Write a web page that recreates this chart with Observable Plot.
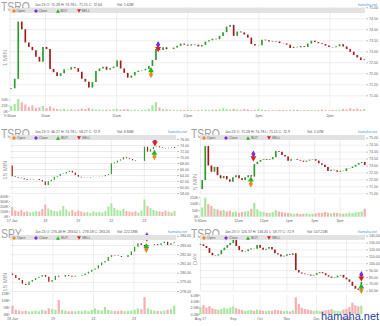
<!DOCTYPE html>
<html><head><meta charset="utf-8">
<script src="https://cdn.jsdelivr.net/npm/d3@7"></script>
<script src="https://cdn.jsdelivr.net/npm/@observablehq/plot@0.6"></script>
<style>
body{margin:0;background:#fff;font-family:"Liberation Sans",Arial,sans-serif}
#root{position:relative;width:380px;height:326px;overflow:hidden;background:#fff}
.a{position:absolute;white-space:nowrap}
</style></head><body><div id="root"></div><script>
// ---------- DATA ----------
// Panel A: TSRO 1 MIN (Jan 23)
const aCloses = [71.32,71.75,74.35,74.0,73.4,73.2,73.05,72.75,72.53,73.2,73.1,72.2,72.05,71.88,72.0,72.18,72.17,72.28,72.23,72.07,71.75,71.62,71.35,71.6,72.1,72.22,72.3,72.16,72.23,72.3,72.58,72.22,72.02,71.8,71.9,72.06,72.12,72.14,72.2,72.33,72.6,73.1,73.06,73.18,73.1,73.1,73.17,73.25,73.35,73.3,73.26,73.32,73.3,73.22,73.29,73.44,73.5,73.57,73.55,73.7,73.87,74.12,74.2,73.7,73.9,73.86,73.76,73.62,73.33,73.26,73.27,73.53,73.5,73.44,73.47,73.45,73.37,73.36,73.3,73.15,73.2,73.18,73.24,73.2,73.35,73.48,73.42,73.37,73.33,73.26,73.2,73.18,73.23,73.32,73.22,73.1,72.98,72.83,72.72,72.6,72.64];
const aVolK = [22,30,52,38,28,18,25,14,16,22,13,20,12,9,7,10,6,8,5,7,11,9,13,10,7,6,5,6,5,8,9,6,7,8,5,6,4,5,6,9,25,38,15,9,7,6,5,4,6,5,4,5,3,4,5,6,5,7,6,8,12,9,6,10,7,5,8,7,4,5,9,6,4,3,4,3,5,4,3,4,6,5,3,4,4,5,3,4,6,4,3,5,4,6,9,7,12,8,10,6,9];
const aOpen0 = 71.28;
const aTickMin = [0,30,90,150,210,270];
const aTickLabels = ["9:30am","10am","11am","12pm","1pm","2pm"];

// Panel B: TSRO 15 MIN (Jan 17 - Jan 23)
const bCloses = [63.6,63.3,63.1,62.9,62.6,62.3,62.5,62.7,62.7,62.3,61.8,60.7,61.9,62.4,63.4,63.7,64.3,64.5,65.0,65.4,64.8,64.0,63.4,63.2,63.1,63.2,63.3,63.4,63.4,63.5,63.6,64.0,64.3,67.9,68.2,68.8,69.2,69.9,69.6,69.3,68.9,68.7,68.7,68.7,73.4,71.8,72.6,73.4,73.6,73.2,73.0,72.9,73.1,73.0,73.4];
const bVolK = [180,110,90,120,80,95,70,85,100,90,140,230,150,120,100,90,110,200,130,90,120,80,110,90,70,80,60,90,75,85,70,100,190,250,160,120,110,140,100,90,80,95,70,110,330,200,160,120,100,90,80,110,90,70,100];
const bOpen0 = 67.2;
const bTickMin = [0,390,780,1170,1560];
const bTickLabels = ["17 Jan","18","19","22","23"];

// Panel C: TSRO 5 MIN (Jan 23)
const cCloses = [71.95,74.4,73.0,72.55,72.9,72.3,72.08,72.25,72.0,71.83,72.15,72.3,72.08,71.96,72.15,72.3,72.2,73.1,73.27,73.4,73.45,73.4,73.45,73.6,74.05,73.99,73.75,73.65,73.35,73.45,73.45,73.4,73.35,73.27,73.35,73.42,73.45,73.35,73.16,73.05,72.9,72.6,72.7,72.65,72.55,72.62,72.6,72.8,72.82,72.92,73.05,73.18,73.25,73.04];
const cVolK = [70,145,95,80,60,55,45,50,40,45,35,40,30,35,40,45,60,105,55,40,35,30,28,35,50,40,35,30,28,25,22,25,20,22,25,20,22,25,30,28,35,30,25,30,28,25,22,25,30,28,32,35,40,60];
const cOpen0 = 71.3;
const cTickMin = [0,90,150,210,270,330];
const cTickLabels = ["9:30am","11am","12pm","1pm","2pm","3pm"];

// Panel D: SPY 15 MIN (Jan 18 - Jan 23)
const dCloses = [279.75,279.4,279.2,278.8,278.65,279.0,279.2,279.4,279.55,279.75,279.55,279.0,279.2,279.65,279.55,279.55,279.75,279.65,279.55,279.65,279.65,279.75,279.9,280.1,280.3,280.45,280.8,281.1,281.25,281.7,281.9,281.85,281.8,281.7,281.7,281.9,282.3,282.8,283.2,283.0,282.85,283.0,283.0,283.1,283.0,283.2,283.35,283.0,283.2,283.3];
const dVolM = [6,3,2.5,2,2.2,1.8,2,2.5,2,3,2.5,4,3.5,3,10,3,2.5,2,2,1.8,2.2,2,2.5,2,3,4,3,2.5,5,3,2.5,2.2,2,2.5,2,2.2,2.5,3,4,3.5,12,4,3,2.5,2.2,2,2.5,3,3.5,6];
const dOpen0 = 279.9;
const dTickMin = [0,390,780,1170];
const dTickLabels = ["18 Jan","19","22","23"];

// Panel E: TSRO DAY (Aug 2017 - Jan 2018)
const eCloses = [127.5,125,122,115,111.5,111,113,119,122.5,126.5,129.5,134,125,119,116.8,117.5,120,121.5,121,126.5,122.5,119.5,121,123.5,120,114.5,112.5,109.6,111,113,112,114.5,90,86.5,85,84,83.5,82,83,85.5,87,85.5,82.5,80.5,78.8,79.5,82,83,79,76.5,73,67,63,61.3,72.9];
const eVolM = [2.2,2.8,2.0,2.5,1.8,1.5,1.3,1.6,1.9,1.7,2.0,2.4,1.8,1.5,1.2,1.0,1.1,1.3,1.0,1.4,1.2,1.0,0.9,1.1,1.0,1.3,1.2,1.1,0.9,1.0,0.8,1.1,5.3,3.2,2.0,1.6,1.4,1.2,1.0,1.1,0.9,1.0,1.2,1.3,1.5,1.1,1.0,0.9,1.4,1.6,2.2,3.6,2.8,2.4,2.6];
const eOpen0 = 126.37;
const eTickIdx = [0,11,20,29,39,49];
const eTickLabels = ["Aug 17","Sep","Oct","Nov","Dec","Jan 18"];

// Trade (Jan 23): minutes after 9:30 and prices
const buyMin = 119, sellMin = 125;
const buyPrice = 72.15, sellPrice = 73.14;
const spyAtBuy = 282.95, spyAtSell = 283.35;

const headers = {
  A: ["Jan 23 O: 71.28 H: 74.78 L: 71.15 C: 72.64", "Vol: 1.62M"],
  B: ["Jan 23 O: 66.27 H: 74.78 L: 58.27 C: 72.9", "Vol: 8.84M"],
  C: ["Jan 23 O: 71.28 H: 74.78 L: 71.15 C: 72.9", "Vol: 2.07M"],
  D: ["Jan 23 O: 276.48 H: 283.62 L: 278.58 C: 283.26", "Vol: 222.18M"],
  E: ["Jan 23 O: 126.37 H: 136.45 L: 58.77 C: 72.9", "Vol: 107.21M"]
};
const legendItems = ["Open","Close","BUY","SELL"];

// ---------- DRAWING ----------
const UP = "#2f9a2f", DOWN = "#a31a1a", VUP = "#a8e6a0", VDOWN = "#f4b0b0";
const MK = {Open:"#f08a1c", Close:"#7b2be0", BUY:"#27b327", SELL:"#e01e1e"};
const root = document.getElementById("root");
function seq(n, start, step){ return Array.from({length:n}, (_, i) => start + i*step); }
function makeBars(closes, vols, open0, times, unit){
  return closes.map((c, i) => ({t: times[i], o: i ? closes[i-1] : open0, c, v: vols[i]*unit}));
}
function txt(x, y, s, css){
  const d = document.createElement("div");
  d.className = "a"; d.textContent = s;
  d.style.left = x + "px"; d.style.top = y + "px";
  Object.assign(d.style, css || {});
  root.appendChild(d); return d;
}
function place(node, x, y){
  const w = document.createElement("div");
  w.className = "a"; w.style.left = x + "px"; w.style.top = y + "px";
  w.appendChild(node); root.appendChild(w);
}
function icon(x, y, kind){
  const ns = "http://www.w3.org/2000/svg";
  const s = document.createElementNS(ns, "svg");
  s.setAttribute("width", 4); s.setAttribute("height", 4);
  s.style.position = "absolute"; s.style.left = x + "px"; s.style.top = y + "px";
  const p = document.createElementNS(ns, "path");
  const d = kind === "Open" || kind === "Close" ? "M2,0L4,2L2,4L0,2Z" : kind === "BUY" ? "M2,0.3L4,3.7L0,3.7Z" : "M0,0.3L4,0.3L2,3.7Z";
  p.setAttribute("d", d); p.setAttribute("fill", MK[kind]);
  s.appendChild(p); root.appendChild(s);
}
const sty = {background:"transparent", fontFamily:"Liberation Sans, Arial, sans-serif", overflow:"visible"};

function panel(c){
  const ups = c.bars.filter(d => d.c >= d.o), dns = c.bars.filter(d => d.c < d.o);
  const labelOf = v => c.xLabels[c.xTicks.indexOf(v)];
  const price = Plot.plot({
    width: c.w, height: c.pH,
    marginLeft: c.plotL - c.x0, marginRight: c.x0 + c.w - c.plotR,
    marginTop: c.yTopPx - c.pTop, marginBottom: c.pTop + c.pH - c.yBotPx,
    x: {domain: c.xDomain, axis: null}, y: {domain: c.yDomain, axis: null},
    style: sty,
    marks: [
      Plot.gridY(c.yTicks, {stroke:"#000", strokeOpacity:0.07}),
      Plot.gridX(c.xTicks, {stroke:"#000", strokeOpacity:0.07}),
      Plot.axisY(c.yTicks, {anchor:"right", tickSize:2, tickPadding:1.5, fontSize:3.6, tickFormat: d => d.toFixed(2), label:null, stroke:"#bbb", fill:"#666"}),
      Plot.ruleX(ups, {x:"t", y1:"o", y2:"c", stroke:UP, strokeWidth:c.cw}),
      Plot.ruleX(dns, {x:"t", y1:"o", y2:"c", stroke:DOWN, strokeWidth:c.cw}),
      Plot.dot([{t:c.sellT, p:c.sellP}], {x:"t", y:"p", symbol:"diamond", r:2.2, fill:MK.Close, dy:c.off[1]}),
      Plot.dot([{t:c.sellT, p:c.sellP}], {x:"t", y:"p", symbol:"triangle", r:2.2, fill:MK.SELL, rotate:180, dy:c.off[0]}),
      Plot.dot([{t:c.buyT, p:c.buyP}], {x:"t", y:"p", symbol:"diamond", r:2.2, fill:MK.Open, dy:c.off[3]}),
      Plot.dot([{t:c.buyT, p:c.buyP}], {x:"t", y:"p", symbol:"triangle", r:2.2, fill:MK.BUY, dy:c.off[2]})
    ]
  });
  place(price, c.x0, c.pTop);
  const vol = Plot.plot({
    width: c.w, height: c.vH,
    marginLeft: c.plotL - c.x0, marginRight: c.x0 + c.w - c.plotR,
    marginTop: c.vTopPx - c.vTop, marginBottom: c.vTop + c.vH - c.vBotPx,
    x: {domain: c.xDomain, axis: null}, y: {domain: c.vDomain, axis: null},
    style: sty,
    marks: [
      Plot.gridX(c.xTicks, {stroke:"#000", strokeOpacity:0.07}),
      Plot.ruleX(ups, {x:"t", y1:0, y2:"v", stroke:VUP, strokeWidth:c.vw}),
      Plot.ruleX(dns, {x:"t", y1:0, y2:"v", stroke:VDOWN, strokeWidth:c.vw}),
      Plot.axisY(c.vTicks, {anchor:"left", tickSize:1, tickPadding:1, fontSize:3.6, tickFormat:c.vFmt, label:null, stroke:"#bbb", fill:"#666"}),
      Plot.axisX(c.xTicks, {anchor:"bottom", tickSize:0, tickPadding:2.5, fontSize:3.6, tickFormat:labelOf, label:null, fill:"#666"})
    ]
  });
  place(vol, c.x0, c.vTop);
  // titles and legend
  txt(c.x0 + 1, c.titleY, c.title, {fontSize:"13px", lineHeight:"13px", color:"#a0a0a0", transform:"scaleX(0.8)", transformOrigin:"0 0"});
  const hs = {fontSize:"3.5px", lineHeight:"4px", color:"#555"};
  txt(c.x0 + 35, c.titleY + 2.5, c.header[0], hs);
  txt(c.x0 + 117, c.titleY + 2.5, c.header[1], hs);
  txt(c.x0 + c.w - 22, c.titleY + 2.5, "hamaha.net", {fontSize:"3.6px", lineHeight:"4px", color:"#4a9be0"});
  const bar = document.createElement("div");
  bar.className = "a";
  Object.assign(bar.style, {left:(c.plotL)+"px", top:(c.titleY+8.3)+"px", width:(c.plotR - c.plotL)+"px", height:"4.4px", background:"#e2e2e2"});
  root.appendChild(bar);
  legendItems.forEach((lab, k) => {
    const dx = [2, 24, 46, 67][k];
    icon(c.plotL + dx, c.titleY + 8.5, lab);
    txt(c.plotL + dx + 5, c.titleY + 8.6, lab, {fontSize:"3.4px", lineHeight:"4px", color:"#555"});
  });
  txt(c.sideX, c.sideY, c.side, {fontSize:"6px", lineHeight:"6px", color:"#9a9a9a", transform:"translate(-50%,-50%) rotate(-90deg)"});
}

const aBars = makeBars(aCloses, aVolK, aOpen0, seq(aCloses.length, 1, 2.98), 1000);
const bBars = makeBars(bCloses, bVolK, bOpen0, seq(bCloses.length, 0, 35.5), 1000);
const cBars = makeBars(cCloses, cVolK, cOpen0, seq(cCloses.length, 4, 7.25), 1000);
const dBars = makeBars(dCloses, dVolM, dOpen0, seq(dCloses.length, 0, 31.8), 1e6);
const eBars = makeBars(eCloses, eVolM, eOpen0, seq(eCloses.length, 0, 1), 1e6);

const kFmt = d => (d/1000) + "K";
panel({title:"TSRO", side:"1 MIN", header:headers.A, x0:0, w:380, plotL:9.5, plotR:365, titleY:0,
  pTop:0, pH:97, yTopPx:7.3, yBotPx:95.3, yDomain:[71,75], yTicks:d3.range(71,75.01,0.5),
  xDomain:[0,300], xTicks:aTickMin, xLabels:aTickLabels, bars:aBars, cw:1.7, vw:2.2,
  vTop:95, vH:30, vTopPx:97.2, vBotPx:111, vDomain:[0,60000], vTicks:[0,25000,50000], vFmt:kFmt,
  buyT:buyMin, sellT:sellMin, buyP:buyPrice, sellP:sellPrice, off:[0,-4,0,4], sideX:5, sideY:58});
panel({title:"TSRO", side:"15 MIN", header:headers.B, x0:0, w:190, plotL:10, plotR:176, titleY:127,
  pTop:130, pH:66, yTopPx:139, yBotPx:193, yDomain:[58,76], yTicks:d3.range(58,76.01,2),
  xDomain:[-20,1940], xTicks:bTickMin, xLabels:bTickLabels, bars:bBars, cw:1.2, vw:2,
  vTop:195, vH:28, vTopPx:196, vBotPx:216, vDomain:[0,400000], vTicks:[0,100000,200000,300000,400000], vFmt:kFmt,
  buyT:1560+buyMin, sellT:1560+sellMin, buyP:buyPrice, sellP:sellPrice, off:[-5,-8.5,2,5.5], sideX:5, sideY:170});
panel({title:"TSRO", side:"5 MIN", header:headers.C, x0:190, w:190, plotL:200, plotR:365, titleY:127,
  pTop:130, pH:66, yTopPx:137.7, yBotPx:193.3, yDomain:[71,75], yTicks:d3.range(71,75.01,0.5),
  xDomain:[0,390], xTicks:cTickMin, xLabels:cTickLabels, bars:cBars, cw:1.7, vw:2.2,
  vTop:195, vH:28, vTopPx:196.9, vBotPx:216.7, vDomain:[0,150000], vTicks:[0,50000,100000,150000], vFmt:kFmt,
  buyT:buyMin, sellT:sellMin, buyP:buyPrice, sellP:sellPrice, off:[-6,-10,2,6], sideX:195, sideY:182});
panel({title:"SPY", side:"15 MIN", header:headers.D, x0:0, w:190, plotL:10, plotR:176, titleY:227,
  pTop:226, pH:66, yTopPx:235.8, yBotPx:291, yDomain:[278,284], yTicks:d3.range(278,284.01,1),
  xDomain:[-19.3,1580], xTicks:dTickMin, xLabels:dTickLabels, bars:dBars, cw:1.3, vw:2.2,
  vTop:291, vH:32, vTopPx:293, vBotPx:314, vDomain:[0,15e6], vTicks:[0,5e6,10e6,15e6], vFmt:d => (d/1e6)+"M",
  buyT:1170+buyMin, sellT:1170+sellMin, buyP:spyAtBuy, sellP:spyAtSell, off:[-4,-6.5,0.5,3.5], sideX:5, sideY:282});
panel({title:"TSRO", side:"DAY", header:headers.E, x0:190, w:190, plotL:200, plotR:365, titleY:227,
  pTop:226, pH:68, yTopPx:235.7, yBotPx:290.7, yDomain:[60,140], yTicks:d3.range(60,140.01,10),
  xDomain:[0,55.4], xTicks:eTickIdx, xLabels:eTickLabels, bars:eBars, cw:1.7, vw:2.2,
  vTop:292, vH:31, vTopPx:295, vBotPx:314, vDomain:[0,6e6], vTicks:[0,2e6,4e6,6e6], vFmt:d => (d/1e6).toFixed(1)+"M",
  buyT:54, sellT:54, buyP:buyPrice, sellP:sellPrice, off:[-4,-7.5,4,7.5], sideX:195, sideY:259});

txt(321, 310, "hamaha.net", {fontSize:"11px", lineHeight:"13px", color:"#25409a"});
</script></body></html>
